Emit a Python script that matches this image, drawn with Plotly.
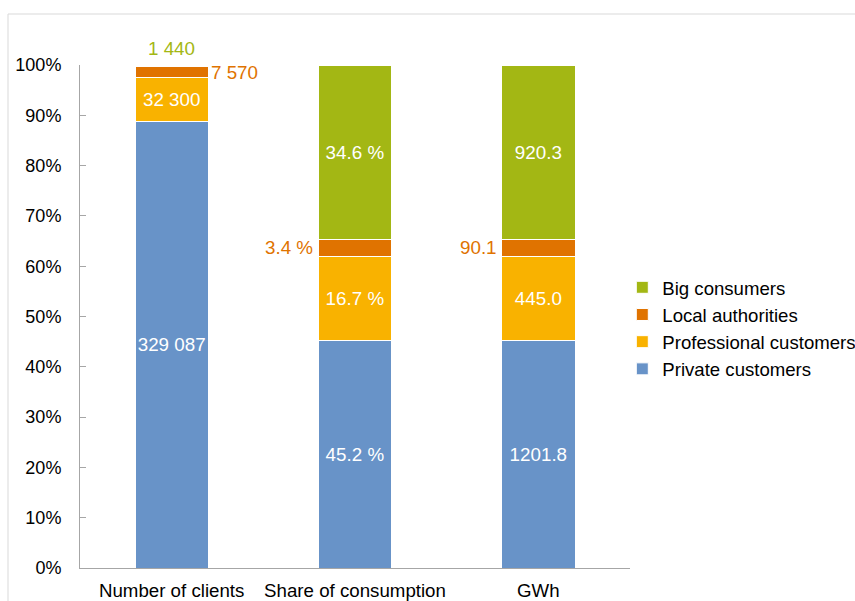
import plotly.graph_objects as go

# ---- data ----
categories = ["Number of clients", "Share of consumption", "GWh"]
series_names = ["Private customers", "Professional customers", "Local authorities", "Big consumers"]
private_customers = [329087, 45.2, 1201.8]
professional_customers = [32300, 16.7, 445.0]
local_authorities = [7570, 3.4, 90.1]
big_consumers = [1440, 34.6, 920.3]
y_ticks = [0, 10, 20, 30, 40, 50, 60, 70, 80, 90, 100]

series_values = [private_customers, professional_customers, local_authorities, big_consumers]

# ---- styles ----
colors = ["#6893C8", "#F9B200", "#E07300", "#A3B714"]
FONT = "Liberation Sans, Arial, sans-serif"
FS = 18
FS_LABEL = 18.8
# segments whose label sits outside the bar: (series index, category index) -> side
outside = {(3, 0): "above", (2, 0): "right", (2, 1): "left", (2, 2): "left"}


def fmt(v, ci):
    if ci == 0:
        return f"{int(v):,}".replace(",", " ")
    if ci == 1:
        return f"{v} %"
    return f"{v:.1f}"


fig = go.Figure()
for si, (name, vals) in enumerate(zip(series_names, series_values)):
    texts = ["" if (si, ci) in outside else fmt(v, ci) for ci, v in enumerate(vals)]
    fig.add_trace(go.Bar(
        name=name, x=categories, y=vals,
        marker=dict(color=colors[si], line=dict(color="white", width=1)),
        text=texts, textposition="inside", insidetextanchor="middle", textangle=0,
        textfont=dict(color="white", size=FS_LABEL, family=FONT),
        constraintext="none", hoverinfo="skip",
    ))

# outside labels placed from the data's cumulative shares
totals = [sum(s[ci] for s in series_values) for ci in range(len(categories))]
half_bar_px = 0.2 * 550 / 3
for (si, ci), side in outside.items():
    lower = sum(series_values[k][ci] for k in range(si)) / totals[ci] * 100
    upper = min(lower + series_values[si][ci] / totals[ci] * 100, 100.0)
    txt = fmt(series_values[si][ci], ci)
    common = dict(x=categories[ci], text=txt, showarrow=False,
                  font=dict(color=colors[si], size=FS_LABEL, family=FONT))
    if side == "above":
        fig.add_annotation(y=upper, yanchor="bottom", xanchor="center", yshift=4, **common)
    elif side == "right":
        fig.add_annotation(y=(lower + upper) / 2, yanchor="middle", xanchor="left",
                           xshift=half_bar_px + 1, **common)
    else:
        fig.add_annotation(y=(lower + upper) / 2, yanchor="middle", xanchor="right",
                           xshift=-half_bar_px - 3, **common)

# light frame around the chart
fig.add_shape(type="rect", xref="paper", yref="paper",
              x0=(8 - 80) / 550, x1=2, y0=-1, y1=(568 - 14) / 503,
              line=dict(color="#D9D9D9", width=1), fillcolor="rgba(0,0,0,0)", layer="below")

fig.update_layout(
    barmode="stack", barnorm="percent", bargap=0.6,
    width=855, height=601,
    margin=dict(l=80, r=225, t=65, b=33, autoexpand=False),
    paper_bgcolor="white", plot_bgcolor="white",
    font=dict(family=FONT, size=FS, color="black"),
    showlegend=True,
    legend=dict(traceorder="reversed", x=0.986, xanchor="left", y=0.595, yanchor="top",
                font=dict(size=18.6, family=FONT, color="black"),
                bgcolor="rgba(0,0,0,0)", tracegroupgap=0),
    xaxis=dict(showline=True, linecolor="#A6A6A6", linewidth=1, ticks="",
               tickfont=dict(size=18.7, family=FONT, color="black"), showgrid=False,
               ticklabelstandoff=6),
    yaxis=dict(range=[0, 100], tickvals=y_ticks, ticktext=[f"{t}%" for t in y_ticks],
               showline=True, linecolor="#A6A6A6", linewidth=1,
               ticks="inside", ticklen=6, tickcolor="#A6A6A6",
               tickfont=dict(size=FS, family=FONT, color="black"),
               showgrid=False, zeroline=False, ticklabelstandoff=14),
)

fig.write_html("out.html")
